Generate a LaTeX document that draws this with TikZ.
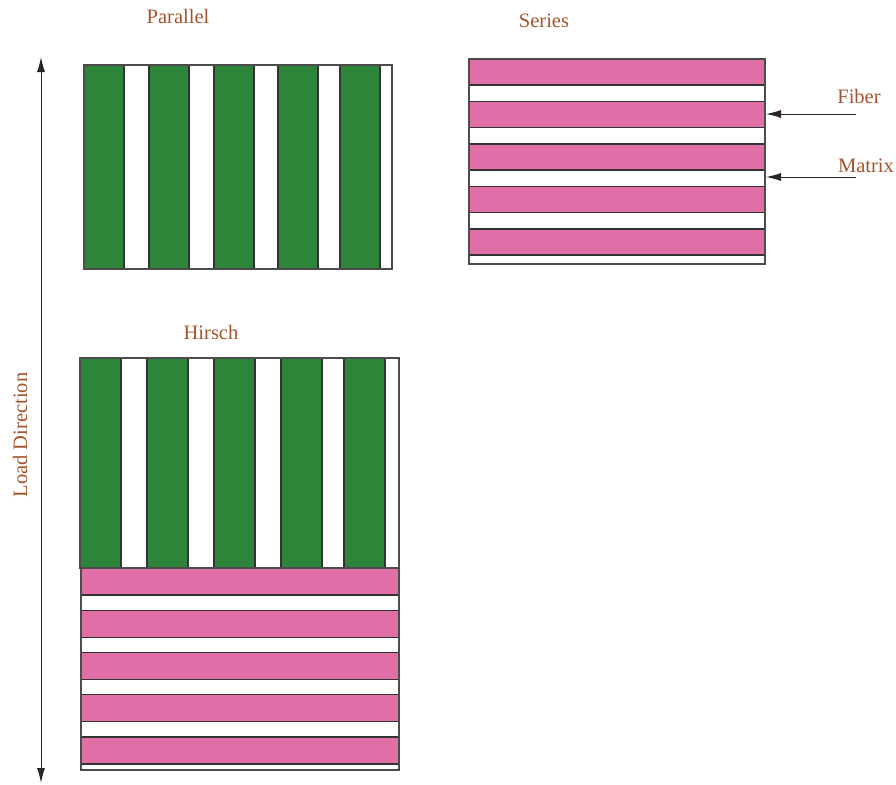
\documentclass[tikz,border=0pt]{standalone}
\usepackage{fontspec}
\setmainfont{Liberation Serif}
\usepackage{xcolor}
\usepackage{tikz}
\usetikzlibrary{arrows.meta}
\usetikzlibrary{positioning}

\definecolor{fibgreen}{RGB}{46,133,57}
\definecolor{fibpink}{RGB}{224,111,168}
\definecolor{lblbrown}{RGB}{163,84,44}

\begin{document}
\begin{tikzpicture}[
      x=1pt, y=-1pt,
      lbl/.style={font=\fontsize{20.5}{24}\selectfont, text=lblbrown, inner sep=0pt},
      green_bar/.style={fill=fibgreen, draw=black!80, line width=1.2pt},
      pink_bar/.style={fill=fibpink, draw=black!80, line width=1.2pt},
      box_line/.style={draw=black!70, line width=1.2pt},
      tip_arrow/.style={-{Latex[length=15pt, width=8pt]}, black!85, line width=1pt}
  ]

  \useasboundingbox (0, 0) rectangle (896, 784);

  % 1. Parallel (fibre verticali)
  \node[lbl] (parallel_lbl) at (178, 16) {Parallel};
  \foreach \x in {84, 149, 214, 278, 340} {
    \draw[green_bar] (\x, 65) rectangle (\x + 40, 269);
  }
  \draw[box_line] (84, 65) rectangle (392, 269);

  % 2. Series (fibre orizzontali)
  \node[lbl] (series_lbl) at (544, 21) {Series};
  \foreach \i in {0, ..., 4} {
    \draw[pink_bar] (469, 59 + 42.5*\i) rectangle (765, 85 + 42.5*\i);
  }
  \draw[box_line] (469, 59) rectangle (765, 264);

  % 3. Frecce Fiber / Matrix
  \node[lbl] (fiber_lbl) at (859, 96) {Fiber};
  \node[lbl] (matrix_lbl) at (866, 166) {Matrix};
  \coordinate (fiber_tail) at (856, 114);
  \coordinate (fiber_tip) at (766, 114);
  \coordinate (matrix_tail) at (856, 177);
  \coordinate (matrix_tip) at (766, 177);
  \draw[tip_arrow] (fiber_tail) -- (fiber_tip);
  \draw[tip_arrow] (matrix_tail) -- (matrix_tip);

  % 4. Hirsch (parte verticale + parte orizzontale)
  \node[lbl] (hirsch_lbl) at (211, 332) {Hirsch};
  \foreach \x in {80, 147, 214, 281, 344} {
    \draw[green_bar] (\x, 358) rectangle (\x + 41, 568);
  }
  \draw[box_line] (80, 358) rectangle (399, 568);
  \foreach \i in {0, ..., 4} {
    \draw[pink_bar] (81, 568 + 42.25*\i) rectangle (399, 595 + 42.25*\i);
  }
  \draw[box_line] (81, 568) rectangle (399, 770);

  % 5. Direzione del carico
  \coordinate (load_top) at (41, 57);
  \coordinate (load_bot) at (41, 783);
  \draw[{Latex[length=15pt, width=8pt]}-{Latex[length=15pt, width=8pt]}, black!85, line width=1pt]
    (load_top) -- (load_bot);
  \node[lbl, rotate=90] (load_lbl) at (20, 435) {Load Direction};

\end{tikzpicture}
\end{document}
